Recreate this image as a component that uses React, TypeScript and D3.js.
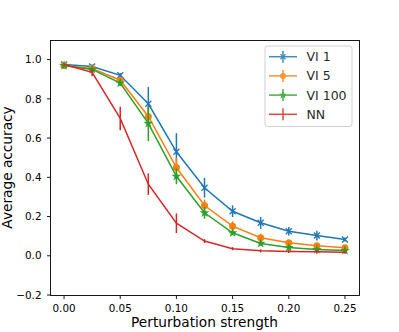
import React from 'react';
import * as d3 from 'd3';

// perturbation strengths (x)
const strengths = [0, 0.025, 0.05, 0.075, 0.1, 0.125, 0.15, 0.175, 0.2, 0.225, 0.25];

const vi1 = [0.975, 0.965, 0.92, 0.775, 0.53, 0.347, 0.227, 0.168, 0.125, 0.103, 0.083];
const vi1Err = [0.008, 0.01, 0.012, 0.085, 0.095, 0.05, 0.03, 0.03, 0.022, 0.025, 0.01];
const vi5 = [0.97, 0.955, 0.895, 0.71, 0.45, 0.256, 0.151, 0.092, 0.066, 0.051, 0.041];
const vi5Err = [0.008, 0.01, 0.015, 0.05, 0.05, 0.03, 0.025, 0.02, 0.015, 0.01, 0.01];
const vi100 = [0.97, 0.95, 0.88, 0.675, 0.405, 0.219, 0.117, 0.063, 0.042, 0.032, 0.027];
const vi100Err = [0.008, 0.01, 0.015, 0.09, 0.04, 0.03, 0.01, 0.01, 0.01, 0.01, 0.01];
const nn = [0.975, 0.935, 0.7, 0.365, 0.166, 0.075, 0.036, 0.025, 0.022, 0.02, 0.018];
const nnErr = [0.005, 0.02, 0.06, 0.055, 0.05, 0.01, 0.008, 0.008, 0.008, 0.01, 0.008];

const seriesNames = ['VI 1', 'VI 5', 'VI 100', 'NN'];
const xTicks = [0, 0.05, 0.1, 0.15, 0.2, 0.25];
const yTicks = [-0.2, 0, 0.2, 0.4, 0.6, 0.8, 1.0];

const series = [
  { name: seriesNames[0], values: vi1, errs: vi1Err, color: '#1f77b4', marker: 'x' },
  { name: seriesNames[1], values: vi5, errs: vi5Err, color: '#ff7f0e', marker: 'o' },
  { name: seriesNames[2], values: vi100, errs: vi100Err, color: '#2ca02c', marker: '*' },
  { name: seriesNames[3], values: nn, errs: nnErr, color: '#d62728', marker: '' },
];

const W = 399;
const H = 332;
const margin = { top: 40, right: 40, bottom: 37, left: 50 };
const font = 'DejaVu Sans, sans-serif';

const x = d3.scaleLinear().domain([-0.0125, 0.2625]).range([margin.left, W - margin.right]);
const y = d3.scaleLinear().domain([-0.2, 1.1]).range([H - margin.bottom, margin.top]);

const line = d3.line<number>()
  .x((_, i) => x(strengths[i]))
  .y((d) => y(d));

// draw one marker at (cx, cy)
function Marker({ kind, cx, cy, color, scale = 1 }) {
  if (kind === 'x') {
    const s = 3 * scale;
    return (
      <path
        d={`M${cx - s},${cy - s}L${cx + s},${cy + s}M${cx - s},${cy + s}L${cx + s},${cy - s}`}
        stroke={color}
        strokeWidth={1.3}
      />
    );
  }
  if (kind === 'o') {
    return <circle cx={cx} cy={cy} r={3.5 * scale} fill={color} />;
  }
  if (kind === '*') {
    const star = d3.symbol().type(d3.symbolStar).size(30 * scale * scale)();
    return <path d={star} transform={`translate(${cx},${cy})`} fill={color} />;
  }
  return null;
}

export default function App() {
  const x0 = margin.left;
  const x1 = W - margin.right;
  const y0 = H - margin.bottom;
  const y1 = margin.top;

  const legendX = 265;
  const legendY = 46;
  const rowH = 19.2;

  return (
    <svg
      width={W}
      height={H}
      style={{ position: 'absolute', left: 0, top: 0, background: '#fff' }}
      fontFamily={font}
    >
      {/* series */}
      {series.map((s) => (
        <g key={s.name}>
          <path d={line(s.values) || ''} fill="none" stroke={s.color} strokeWidth={1.5} />
          {s.values.map((v, i) => (
            <line
              key={'e' + i}
              x1={x(strengths[i])}
              x2={x(strengths[i])}
              y1={y(v - s.errs[i])}
              y2={y(v + s.errs[i])}
              stroke={s.color}
              strokeWidth={1.5}
            />
          ))}
          {s.values.map((v, i) => (
            <Marker key={'m' + i} kind={s.marker} cx={x(strengths[i])} cy={y(v)} color={s.color} />
          ))}
        </g>
      ))}

      {/* axes box */}
      <rect x={x0 + 0.5} y={y1 + 0.5} width={x1 - x0} height={y0 - y1} fill="none" stroke="#000" strokeWidth={0.9} />

      {/* x ticks */}
      {xTicks.map((t) => (
        <g key={'x' + t}>
          <line x1={x(t)} x2={x(t)} y1={y0 + 0.5} y2={y0 + 4} stroke="#000" strokeWidth={0.9} />
          <text x={x(t)} y={y0 + 17} textAnchor="middle" fontSize={10.4} fill="#000">
            {t.toFixed(2)}
          </text>
        </g>
      ))}

      {/* y ticks */}
      {yTicks.map((t) => (
        <g key={'y' + t}>
          <line x1={x0 - 3} x2={x0 + 0.5} y1={y(t)} y2={y(t)} stroke="#000" strokeWidth={0.9} />
          <text x={x0 - 8.5} y={y(t) + 3.7} textAnchor="end" fontSize={10.4} fill="#000">
            {t < 0 ? '\u2212' + Math.abs(t).toFixed(1) : t.toFixed(1)}
          </text>
        </g>
      ))}

      {/* axis labels */}
      <text x={(x0 + x1) / 2} y={327} textAnchor="middle" fontSize={13.7} fill="#000">
        Perturbation strength
      </text>
      <text
        transform={`translate(11.5, ${(y0 + y1) / 2}) rotate(-90)`}
        textAnchor="middle"
        fontSize={13.7}
        fill="#000"
      >
        Average accuracy
      </text>

      {/* legend */}
      <rect x={legendX} y={legendY} width={87} height={80.5} rx={2.5} fill="#fff" fillOpacity={0.8} stroke="#ccc" strokeWidth={0.9} />
      {series.map((s, i) => {
        const cy = legendY + 10.7 + i * rowH;
        return (
          <g key={'l' + s.name} opacity={0.85}>
            <line x1={269} x2={297} y1={cy} y2={cy} stroke={s.color} strokeWidth={1.5} />
            <line x1={283} x2={283} y1={cy - 6} y2={cy + 6} stroke={s.color} strokeWidth={1.5} />
            <Marker kind={s.marker} cx={283} cy={cy} color={s.color} scale={0.85} />
            <text x={306.5} y={cy + 4.5} fontSize={12.5} fill="#000">
              {s.name}
            </text>
          </g>
        );
      })}
    </svg>
  );
}
